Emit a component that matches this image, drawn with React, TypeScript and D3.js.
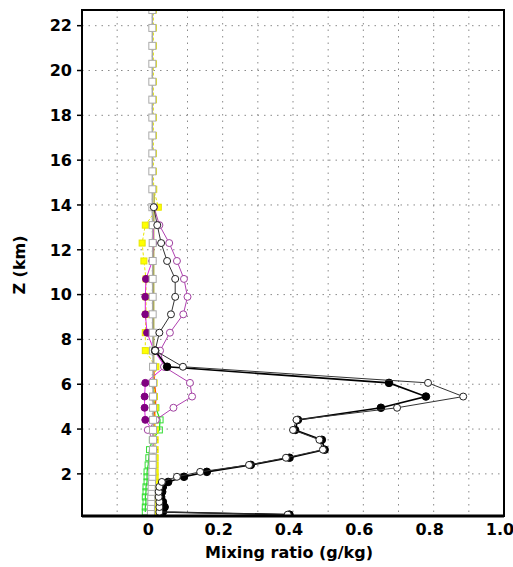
import React, { useEffect, useRef } from 'react';
import * as d3 from 'd3';

// model levels (km)
const levels = [0.18, 0.3, 0.52, 0.75, 0.97, 1.2, 1.42, 1.64, 1.87, 2.09, 2.4, 2.72, 3.08, 3.52, 3.96, 4.41, 4.95, 5.45, 6.06, 6.78,
  7.5, 8.3, 9.12, 9.9, 10.7, 11.5, 12.3, 13.1, 13.9, 14.7, 15.5, 16.3, 17.1, 17.9, 18.7, 19.5, 20.3, 21.1, 21.9, 22.7];

const N = null;

const graySquares = [N, -0.004, -0.004, -0.003, -0.003, -0.002, -0.002, -0.001, 0, 0, 0.001, 0.001, 0.002, 0.002, 0.002, 0.002, 0.002, 0.002, 0.002, 0.002,
  0.002, 0.001, 0.001, 0.001, 0.001, 0.001, 0.001, 0.001, 0, 0, 0, 0, 0, 0, 0, 0, 0, 0, 0, 0];

const olive = [N, 0.004, 0.004, 0.004, 0.004, 0.004, 0.004, 0.004, 0.004, 0.004, 0.004, 0.004, 0.004, 0.004, 0.004, 0.004, 0.004, 0.004, 0.004, 0.004,
  0.004, 0.004, 0.004, 0.004, 0.004, 0.004, 0.004, 0.004, 0.005, 0.005, N, N, N, N, N, N, N, N, N, N];

const green = [N, -0.02, -0.02, -0.018, -0.02, -0.018, -0.018, -0.015, -0.015, -0.015, -0.012, -0.01, -0.008, 0.0, 0.02, 0.022, 0.01, 0.005, 0.003, N,
  N, N, N, N, N, N, N, N, N, N, N, N, N, N, N, N, N, N, N, N];

const orange = [N, N, N, N, N, N, N, N, N, N, N, N, N, N, 0.004, 0.005, 0.008, 0.01, 0.006, 0.003,
  N, N, N, N, N, N, N, N, N, N, N, N, N, N, N, N, N, N, N, N];

const yellow = [N, 0.008, 0.008, 0.008, 0.008, 0.008, 0.008, 0.008, 0.008, 0.008, 0.008, 0.008, 0.008, 0.008, 0.008, 0.008, 0.008, 0.006, 0.005, 0.01,
  -0.02, -0.02, -0.018, -0.018, -0.018, -0.024, -0.029, -0.02, 0.017, 0.004, 0.003, 0.003, 0.003, 0.003, 0.003, 0.003, 0.003, 0.003, 0.003, 0.003];

const purple = [N, N, N, N, N, N, N, N, N, N, N, N, 0.003, 0.003, 0.0, -0.02, -0.022, -0.022, -0.02, 0.036,
  0.005, -0.015, -0.02, -0.02, -0.018, 0.0, 0.003, 0.003, N, N, N, N, N, N, N, N, N, N, N, N];

const magenta = [N, N, N, N, N, N, N, N, N, N, N, N, N, 0.002, -0.013, 0.01, 0.06, 0.113, 0.107, 0.033,
  0.022, 0.05, 0.088, 0.1, 0.09, 0.07, 0.048, 0.02, 0.005, N, N, N, N, N, N, N, N, N, N, N];

const openCircles = [0.385, 0.02, 0.02, 0.02, 0.018, 0.018, 0.02, 0.027, 0.07, 0.136, 0.275, 0.38, 0.485, 0.475, 0.4, 0.41, 0.696, 0.884, 0.784, 0.087,
  0.008, 0.02, 0.053, 0.065, 0.065, 0.042, 0.025, 0.014, 0.004, N, N, N, N, N, N, N, N, N, N, N];

const blackCircles = [0.39, 0.03, 0.035, 0.03, 0.025, 0.028, 0.03, 0.045, 0.09, 0.155, 0.28, 0.39, 0.49, 0.482, 0.406, 0.414, 0.65, 0.778, 0.673, 0.042,
  0.008, N, N, N, N, N, N, N, N, N, N, N, N, N, N, N, N, N, N, N];

const xTicks = [0, 0.2, 0.4, 0.6, 0.8, 1.0];
const xTickLabels = ['0', '0.2', '0.4', '0.6', '0.8', '1.0'];
const xGrid = [-0.1, 0, 0.1, 0.2, 0.3, 0.4, 0.5, 0.6, 0.7, 0.8, 0.9];
const yTicks = [2, 4, 6, 8, 10, 12, 14, 16, 18, 20, 22];

const Chart = ({ width = 513, height = 567 }) => {
  const ref = useRef<SVGSVGElement>(null);

  useEffect(() => {
    const margin = { top: 10, right: 9, bottom: 51, left: 82 };
    const innerWidth = width - margin.left - margin.right;
    const innerHeight = height - margin.top - margin.bottom;
    const font = '"DejaVu Sans", Verdana, sans-serif';

    const svg = d3.select(ref.current)
      .attr('width', width)
      .attr('height', height);

    svg.selectAll('*').remove();

    svg.append('rect').attr('width', width).attr('height', height).attr('fill', 'white');

    const g = svg.append('g')
      .attr('transform', `translate(${margin.left},${margin.top})`);

    const x = d3.scaleLinear().domain([-0.2, 1.0]).range([0, innerWidth]);
    const y = d3.scaleLinear().domain([0.12, 22.7]).range([innerHeight, 0]);

    g.append('clipPath').attr('id', 'plotclip')
      .append('rect').attr('width', innerWidth).attr('height', innerHeight);

    // grid
    g.selectAll('.vgrid').data(xGrid).enter().append('line')
      .attr('x1', d => x(d)).attr('x2', d => x(d))
      .attr('y1', 0).attr('y2', innerHeight)
      .attr('stroke', '#8a8a8a').attr('stroke-width', 1)
      .attr('stroke-dasharray', '1.5,5');
    g.selectAll('.hgrid').data(yTicks).enter().append('line')
      .attr('x1', 0).attr('x2', innerWidth)
      .attr('y1', d => y(d)).attr('y2', d => y(d))
      .attr('stroke', '#8a8a8a').attr('stroke-width', 1)
      .attr('stroke-dasharray', '1.5,5');

    const plot = g.append('g').attr('clip-path', 'url(#plotclip)');

    const toPts = (vals) => vals.map((v, i) => ({ x: v, z: levels[i] })).filter(d => d.x !== null);

    const line = d3.line<any>()
      .defined(d => d.x !== null)
      .x(d => x(d.x))
      .y(d => y(d.z));

    const drawSeries = (vals, opts) => {
      const pts = vals.map((v, i) => ({ x: v, z: levels[i] }));
      plot.append('path')
        .datum(pts)
        .attr('d', line)
        .attr('fill', 'none')
        .attr('stroke', opts.stroke)
        .attr('stroke-width', opts.width || 1)
        .attr('stroke-dasharray', opts.dash || null);
      if (!opts.marker) return;
      const data = toPts(vals);
      if (opts.marker === 'square') {
        const s = opts.size || 6;
        plot.selectAll(null).data(data).enter().append('rect')
          .attr('x', d => x(d.x) - s / 2)
          .attr('y', d => y(d.z) - s / 2)
          .attr('width', s).attr('height', s)
          .attr('fill', opts.fill)
          .attr('stroke', opts.mstroke)
          .attr('stroke-width', 1);
      } else {
        plot.selectAll(null).data(data).enter().append('circle')
          .attr('cx', d => x(d.x))
          .attr('cy', d => y(d.z))
          .attr('r', opts.r || 3.5)
          .attr('fill', opts.fill)
          .attr('stroke', opts.mstroke)
          .attr('stroke-width', 1);
      }
    };

    drawSeries(olive, { stroke: '#9a9a10', width: 1.2 });
    drawSeries(green, { stroke: '#22dd22', width: 1.2, marker: 'square', fill: 'none', mstroke: '#33dd33', size: 6 });
    drawSeries(orange, { stroke: '#ff5500', width: 1.5 });
    drawSeries(yellow, { stroke: '#e8e800', width: 1, dash: '3,2', marker: 'square', fill: '#ffff00', mstroke: '#e6e600', size: 6 });
    drawSeries(purple, { stroke: '#dd22dd', width: 1, marker: 'circle', fill: '#800080', mstroke: '#800080', r: 3.5 });
    drawSeries(magenta, { stroke: '#b040b0', width: 1, marker: 'circle', fill: 'white', mstroke: '#a040a0', r: 3.5 });
    drawSeries(graySquares, { stroke: '#a8a8a8', width: 1.5, marker: 'square', fill: 'white', mstroke: '#aaaaaa', size: 7 });
    drawSeries(blackCircles, { stroke: '#000', width: 1.6, marker: 'circle', fill: '#000', mstroke: '#000', r: 3.8 });
    drawSeries(openCircles, { stroke: '#333', width: 1, marker: 'circle', fill: 'white', mstroke: '#222', r: 3.5 });

    // frame
    g.append('rect')
      .attr('width', innerWidth).attr('height', innerHeight)
      .attr('fill', 'none').attr('stroke', '#000').attr('stroke-width', 2);
    g.append('line')
      .attr('x1', 0).attr('x2', innerWidth)
      .attr('y1', innerHeight).attr('y2', innerHeight)
      .attr('stroke', '#000').attr('stroke-width', 3);

    // y ticks
    g.selectAll('.ytick').data(yTicks).enter().append('line')
      .attr('x1', -5).attr('x2', 0)
      .attr('y1', d => y(d)).attr('y2', d => y(d))
      .attr('stroke', '#000').attr('stroke-width', 1.5);
    g.selectAll('.ylab').data(yTicks).enter().append('text')
      .attr('x', -10).attr('y', d => y(d))
      .attr('dy', '0.36em')
      .attr('text-anchor', 'end')
      .style('font-family', font).style('font-weight', 'bold').style('font-size', '16px')
      .text(d => d);

    g.selectAll('.xlab').data(xTicks).enter().append('text')
      .attr('x', d => x(d) - 4).attr('y', innerHeight + 19)
      .attr('text-anchor', 'middle')
      .style('font-family', font).style('font-weight', 'bold').style('font-size', '16px')
      .text((d, i) => xTickLabels[i]);

    svg.append('text')
      .attr('x', 289).attr('y', 558)
      .attr('text-anchor', 'middle')
      .style('font-family', font).style('font-weight', 'bold').style('font-size', '16px')
      .text('Mixing ratio (g/kg)');

    svg.append('text')
      .attr('transform', 'translate(25,265) rotate(-90)')
      .attr('text-anchor', 'middle')
      .style('font-family', font).style('font-weight', 'bold').style('font-size', '16px')
      .text('Z (km)');
  }, [width, height]);

  return <svg ref={ref} style={{ position: 'absolute', left: 0, top: 0 }}></svg>;
};

export default function App() {
  return <Chart />;
}
